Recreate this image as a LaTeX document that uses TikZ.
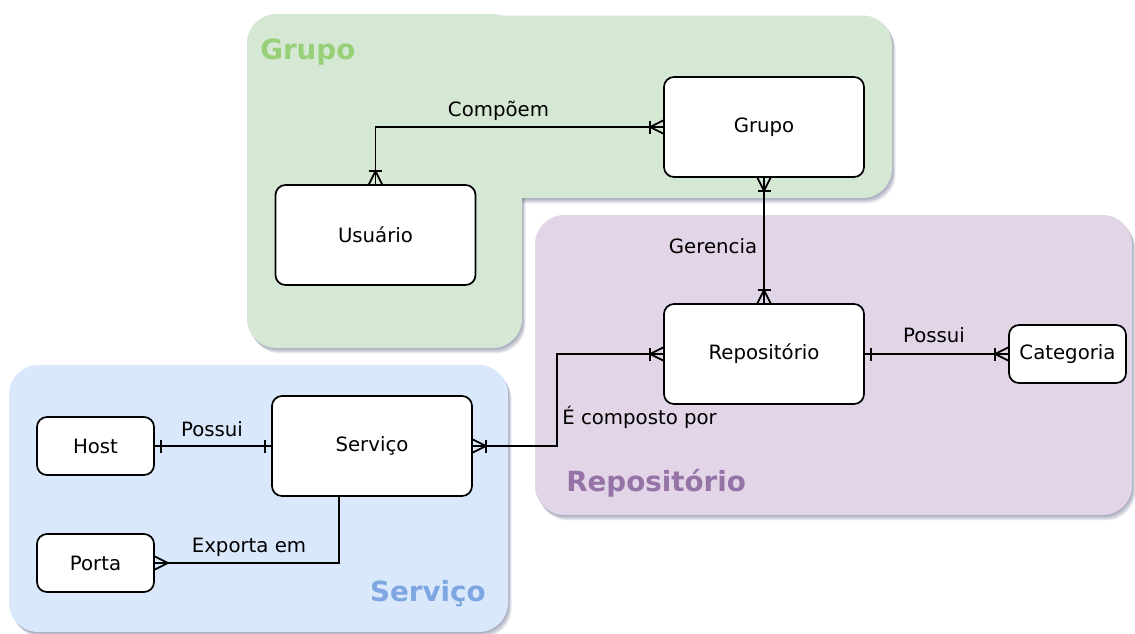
\documentclass[tikz,border=0pt]{standalone}
\usepackage{fontspec}
\setmainfont{DejaVu Sans}
\usetikzlibrary{calc}
\definecolor{grpfill}{HTML}{D5E8D4}
\definecolor{repfill}{HTML}{E1D5E7}
\definecolor{srvfill}{HTML}{DAE8FC}
\definecolor{grptxt}{HTML}{97D077}
\definecolor{reptxt}{HTML}{9673A6}
\definecolor{srvtxt}{HTML}{7EA6E0}
\definecolor{shadowc}{HTML}{5A6080}
\tikzset{
  entity/.style={draw=black, line width=1.3pt, fill=white, rounded corners=7.5pt,
    font=\fontsize{14.8pt}{17pt}\selectfont, align=center},
  bigent/.style={entity, minimum width=150pt, minimum height=75pt},
  smallent/.style={entity, minimum width=87.75pt, minimum height=43.5pt},
  conn/.style={draw=black, line width=1.3pt},
  rel/.style={font=\fontsize{14.8pt}{17pt}\selectfont, inner sep=0pt, anchor=base},
  region/.style={font=\fontsize{20.8pt}{24pt}\selectfont\bfseries, inner sep=0pt},
  pics/onemany/.style={code={
    \draw[conn] (0,-6.5) -- (13,0) -- (0,6.5);
    \draw[conn] (13,-6.5) -- (13,6.5);}},
  pics/many/.style={code={
    \draw[conn] (0,-6.5) -- (13,0) -- (0,6.5);}},
  pics/one/.style={code={
    \draw[conn] (6,-6.5) -- (6,6.5);}},
}
\begin{document}
\begin{tikzpicture}[x=0.75pt, y=-0.75pt]
\useasboundingbox (0,0) rectangle (1135,633);
% shadows
\foreach \d in {1,2,3,4,5,6}{
  \begin{scope}[shift={(\d*0.6,\d*0.9)}, opacity=0.11]
    \fill[shadowc, rounded corners=22pt] (247,14) rectangle (522,348);
    \fill[shadowc, rounded corners=22pt] (247,15) rectangle (892,198);
    \fill[shadowc, rounded corners=22pt] (535,215) rectangle (1132,515);
    \fill[shadowc, rounded corners=22pt] (9,365) rectangle (508,632);
  \end{scope}
}
% regions
\fill[grpfill, rounded corners=22pt] (247,14) rectangle (522,348);
\fill[grpfill, rounded corners=22pt] (247,15.5) rectangle (892,198);
\fill[repfill, rounded corners=22pt] (535,215) rectangle (1132,515);
\fill[srvfill, rounded corners=22pt] (9,365) rectangle (508,632);
\node[region, text=grptxt, anchor=base west] (tgrp) at (260,59) {Grupo};
\node[region, text=reptxt, anchor=base west] (trep) at (566,491) {Repositório};
\node[region, text=srvtxt, anchor=base east] (tsrv) at (486,601) {Serviço};
% entities
\node[bigent] (grp) at (764,127) {Grupo};
\node[bigent] (usu) at (375.5,235) {Usuário};
\node[bigent] (rep) at (764,354) {Repositório};
\node[smallent] (cat) at (1067.5,354) {Categoria};
\node[bigent] (srv) at (372,446) {Serviço};
\node[smallent] (host) at (95.5,446) {Host};
\node[smallent] (porta) at (95.5,563) {Porta};
% connectors
\coordinate (bend) at (557,400);
\coordinate (expo) at ($(srv.south)+(-33,0)$);
\draw[conn] (usu.north) |- (grp.west);
\draw[conn] (grp.south) -- (rep.north);
\draw[conn] (rep.east) -- (cat.west);
\draw[conn] (srv.east) -- (srv.east -| bend) |- (rep.west);
\draw[conn] (host.east) -- (srv.west);
\draw[conn] (expo) |- (porta.east);
% markers
\pic[rotate=90] at (usu.north) {onemany};
\pic[rotate=180] at (grp.west) {onemany};
\pic[rotate=-90] at (grp.south) {onemany};
\pic[rotate=90] at (rep.north) {onemany};
\pic[rotate=180] at (rep.west) {onemany};
\pic at (srv.east) {onemany};
\pic at (rep.east) {one};
\pic[rotate=180] at (cat.west) {onemany};
\pic at (host.east) {one};
\pic[rotate=180] at (srv.west) {one};
\pic at (porta.east) {many};
% relationship labels
\node[rel] (lcomp) at (498.5,116) {Compõem};
\node[rel] (lger) at (713,253) {Gerencia};
\node[rel] (lpos1) at (934,342) {Possui};
\node[rel, anchor=base west] (lcomposto) at (562,424) {É composto por};
\node[rel] (lpos2) at (212,436) {Possui};
\node[rel] (lexp) at (249,552) {Exporta em};
\end{tikzpicture}
\end{document}
